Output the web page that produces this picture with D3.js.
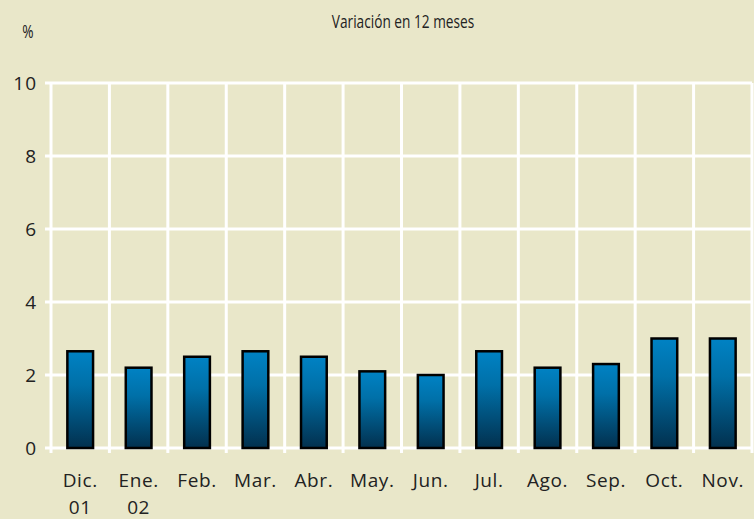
<!DOCTYPE html>
<html><head><meta charset="utf-8">
<script src="https://cdn.jsdelivr.net/npm/d3@7"></script>
<style>
body{margin:0;background:#e9e7c9;}
svg{display:block;}
</style></head>
<body>
<script>
const categories = ["Dic.|01","Ene.|02","Feb.","Mar.","Abr.","May.","Jun.","Jul.","Ago.","Sep.","Oct.","Nov."];
const values = [2.65, 2.2, 2.5, 2.65, 2.5, 2.1, 2.0, 2.65, 2.2, 2.3, 3.0, 3.0];
const yTicks = [0, 2, 4, 6, 8, 10];
const title = "Variación en 12 meses";
const unit = "%";

const W = 754, H = 519;
const m = {left: 51, right: 2, top: 83, bottom: 71};
const svg = d3.select("body").append("svg").attr("width", W).attr("height", H);
svg.append("rect").attr("width", W).attr("height", H).attr("fill", "#e9e7c9");

const x = d3.scaleBand().domain(categories).range([m.left, W - m.right]).paddingInner(0.56).paddingOuter(0.28);
const xb = d3.scaleBand().domain(categories).range([m.left, W - m.right]);
const y = d3.scaleLinear().domain([0, 10]).range([H - m.bottom, m.top]);

const defs = svg.append("defs");
const g = defs.append("linearGradient").attr("id", "bg").attr("x1", 0).attr("y1", 0).attr("x2", 0).attr("y2", 1);
g.append("stop").attr("offset", "0%").attr("stop-color", "#0082c4");
g.append("stop").attr("offset", "35%").attr("stop-color", "#0070a8");
g.append("stop").attr("offset", "100%").attr("stop-color", "#02304e");

// grid
const grid = svg.append("g").attr("stroke", "#ffffff").attr("stroke-width", 3);
grid.selectAll("line.h").data(yTicks).join("line")
  .attr("x1", m.left - 6).attr("x2", W - m.right)
  .attr("y1", d => y(d)).attr("y2", d => y(d));
const vb = categories.map(c => xb(c)).concat([xb(categories[categories.length - 1]) + xb.bandwidth()]);
grid.selectAll("line.v").data(vb).join("line")
  .attr("x1", d => d).attr("x2", d => d)
  .attr("y1", y(10)).attr("y2", y(0) + 5);

// bars
svg.append("g").selectAll("rect").data(values).join("rect")
  .attr("x", (d, i) => x(categories[i]))
  .attr("width", x.bandwidth())
  .attr("y", d => y(d))
  .attr("height", d => y(0) - y(d))
  .attr("fill", "url(#bg)")
  .attr("stroke", "#000").attr("stroke-width", 2.5);

// y labels
const font = "'Open Sans', 'DejaVu Sans', sans-serif";
svg.append("g").selectAll("text").data(yTicks).join("text")
  .attr("x", 37).attr("y", d => y(d)).attr("dy", "0.36em")
  .attr("text-anchor", "end").attr("font-family", font).attr("font-size", 19)
  .attr("letter-spacing", 1).attr("fill", "#222")
  .text(d => d);

// x labels
const xl = svg.append("g").selectAll("text").data(categories).join("text")
  .attr("x", c => xb(c) + xb.bandwidth() / 2)
  .attr("text-anchor", "middle").attr("font-family", font).attr("font-size", 19)
  .attr("letter-spacing", 0.6).attr("fill", "#222");
xl.each(function(c) {
  const parts = c.split("|");
  d3.select(this).selectAll("tspan").data(parts).join("tspan")
    .attr("x", xb(c) + xb.bandwidth() / 2)
    .attr("y", (p, i) => 487 + i * 27)
    .text(p => p);
});

svg.append("text").attr("transform", "translate(403,28) scale(0.76,1)").attr("text-anchor", "middle")
  .attr("font-family", font)
  .attr("font-size", 18).attr("fill", "#222").text(title);
svg.append("text").attr("transform", "translate(28,38) scale(0.76,1)").attr("text-anchor", "middle")
  .attr("font-family", font)
  .attr("font-size", 18).attr("fill", "#222").text(unit);
</script>
</body></html>
